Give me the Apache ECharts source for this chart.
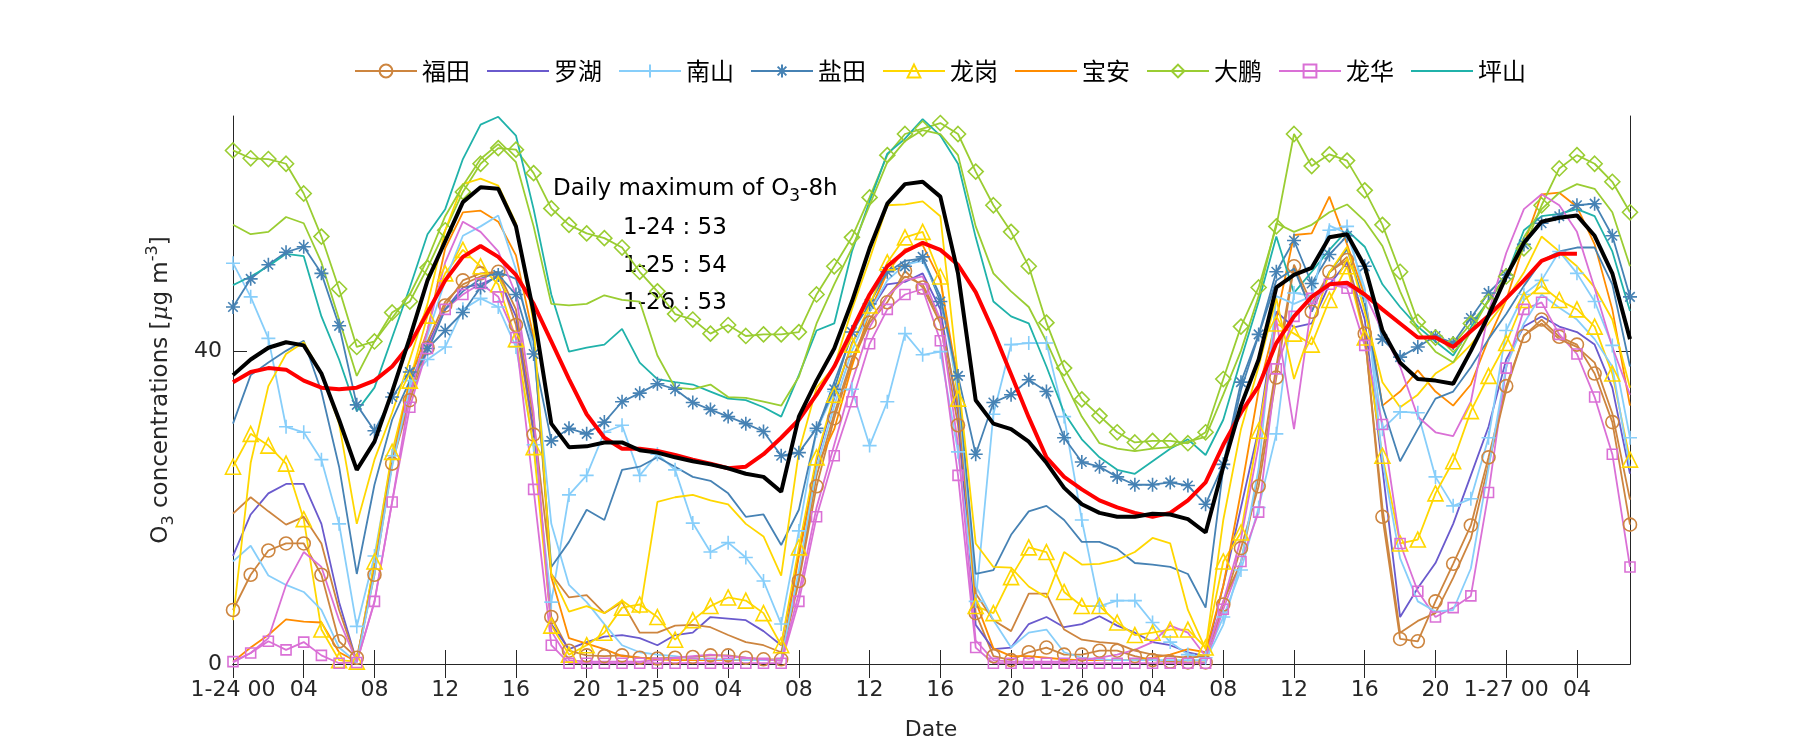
<!DOCTYPE html>
<html><head><meta charset="utf-8">
<script src="https://cdn.jsdelivr.net/npm/echarts@6/dist/echarts.min.js"></script>
<style>html,body{margin:0;padding:0;background:#fff}#c{width:1800px;height:750px}</style>
</head><body><div id="c"></div>
<script>
// Hourly time labels, 1-24 00:00 .. 1-27 07:00
const timeLabels = [
 "1-24 00","01","02","03","04","05","06","07","08","09","10","11","12","13","14","15","16","17","18","19","20","21","22","23",
 "1-25 00","01","02","03","04","05","06","07","08","09","10","11","12","13","14","15","16","17","18","19","20","21","22","23",
 "1-26 00","01","02","03","04","05","06","07","08","09","10","11","12","13","14","15","16","17","18","19","20","21","22","23",
 "1-27 00","01","02","03","04","05","06","07"
];
const yTickValues = [0, 40];
const legendNames = ["福田","罗湖","南山","盐田","龙岗","宝安","大鹏","龙华","坪山"];

const futian = [6.9,11.4,14.5,15.4,15.4,11.4,2.9,0.8,11.4,25.6,33.7,40.4,
45.8,49,49.9,50.1,43.3,29.3,6,1.7,1.1,1,1.1,0.8,
0.7,0.8,0.9,1.1,1.1,0.8,0.6,0.6,10.6,22.7,31.4,38.5,
43.6,46.2,50.2,48.1,43.5,30.5,6.5,1,0.5,1.5,2.1,1.2,
1.2,1.7,1.7,1,0.5,0.3,0.2,0.2,7.6,14.8,22.7,36.6,
50.8,45,50.1,51.6,42.2,18.8,3.2,2.9,8,12.8,17.7,26.4,
35.5,41.9,44,41.8,40.8,37.1,30.9,17.8];
const futian2 = [19.2,21.3,19.5,17.8,18.8,15.4,6.9,0.3,12,25.7,34.4,41.2,
46.3,48.5,49.5,50.1,45.3,31.2,11.5,8.5,8.8,6.5,7.9,4,
4,4.9,5,4.7,3.7,2.8,2.4,1.5,11,24,32,39,
44,47,49.5,48.5,44,33,9,5.6,4.2,9,9,4.4,
3.1,2.8,2.6,1.7,1.2,1,0.8,1,8,13,24,38,
51,46,50,52,42,20,4,5.5,6.5,11,16,25.5,
35,42,43.5,41.5,40.5,38.5,32,21];
const luohu = [13.8,19.1,21.8,23,23,17.9,7.9,0.3,12.9,26.1,34.8,40.8,
45.3,48.1,48.5,49.5,44.4,29.8,5.1,1.9,2.8,3.5,3.7,3.3,
2.4,3.7,4,6,5.8,5.6,4.2,2.4,14,26,34,41,
45,48.5,48.8,49.9,45.3,32,5,1.9,2.1,5.1,6,4.7,
5.1,6.1,4.9,4,2.8,2.4,1.5,1,10,20,30,45,
43,43.5,48.5,51.3,44,25,6,9.7,12.9,17.9,24.1,30.3,
38.9,43.1,44.4,43.1,42.4,40.8,35.3,24.3];
const nanshan = [51.2,46.9,41.6,30.3,29.6,26.1,17.9,4.8,13.8,26.6,36.2,38.9,
40.5,45.3,46.7,45.6,40.5,28,7.9,21.6,24.1,29.6,30.5,24.1,
26.8,24.8,18,14.3,15.5,13.6,10.6,5.1,17,29.8,34.8,35.1,
27.9,33.5,42.2,39.5,39.9,27.1,8,31.9,40.8,41,41,31.6,
18.4,7.4,8.1,8.1,5.3,2.8,1.2,0.8,6,12,20,29.4,
47.4,47,55.4,55.9,47,30,32.2,32.1,23.9,20.2,21.1,28.9,
42.6,47.2,49,52.7,49.9,46.3,40.7,28.9];
const nanshan2 = [13.1,15.1,11.3,10.1,9.2,6.9,2.1,0.2,11.5,25.2,35.3,42,
49,54.7,55.9,57.3,50.4,39.9,17.9,10.1,7.9,5.1,2.4,1.5,
1.2,1,0.7,0.6,0.6,0.5,0.5,0.5,12,25,33,40,
45,49,51,51.5,47,35,10,5.6,2.1,4,4.4,1.5,
0.8,0.6,0.5,0.5,0.5,0.5,0.5,0.5,5,13,25,47,
46,47,56,55,48,26,13.5,8,6.7,6.9,12.2,25,
38,43.5,47.2,45.5,44,41.5,38,25];
const yantian = [45.6,49.2,51,52.6,53.3,49.9,43.2,33.1,29.8,34.1,37.3,40.3,
42.6,44.9,48.1,49.7,47.2,39.6,28.5,30.1,29.4,30.9,33.5,34.6,
35.8,35.1,33.4,32.5,31.6,30.7,29.7,26.6,27,30.1,35.1,42.4,
46,50.1,50.8,52,46.3,36.8,26.8,33.4,34.4,36.3,34.8,28.9,
25.8,25.2,23.9,22.9,22.9,23.2,22.8,20.4,25.5,36,42.1,50.1,
54.1,48.6,52.3,54.7,50.8,41.5,39.2,40.5,41.9,41,44.2,47.4,
49.7,53.6,56.3,57.2,58.6,58.8,54.7,46.9];
const yantian2 = [30.7,36.9,38.5,40,41.3,34.8,25.2,11.5,22.9,31.2,36.2,39.9,
45.3,47.6,49.2,50.1,49.2,41.2,12.4,15.6,19.7,18.4,24.8,25.2,
26.4,25.2,23.9,23.4,21.8,18.8,19.1,15.2,19.7,29.8,36,42,
47,50,51.5,51.8,47,36,11.5,12,16.5,19.5,20.2,18.4,
15.6,15.6,14.7,12.9,12.7,12.4,11.5,7.2,25,35,42,49,
50.5,45,50,53,46,33,25.9,30,33.9,34.8,37.9,41.5,
44.7,48.3,51.5,52.7,53.2,53.2,48.5,38];
const longgang = [25.2,29.4,27.9,25.6,18.5,4.4,0.5,0.3,13.1,27.1,36.2,44.5,
49.9,52.9,50.8,48.5,41.5,27.7,4.9,1.2,2.4,4,7.2,7.6,
6,3.1,5.6,7.4,8.5,8.1,6.5,2.4,14.9,26.4,34.4,40.8,
45.8,51.3,54.5,55.2,49.5,33.9,7.4,6.5,11.1,14.9,14.3,9.2,
7.4,7.4,5.3,3.7,4,4.4,4.4,2.1,13.1,16.8,29.8,43.5,
42.2,40.8,46.5,50.8,41.7,26.6,15.4,15.9,21.8,25.9,32.3,36.8,
41,46.5,48.3,46.5,45.3,43.1,37.1,26.1];
const longgang2 = [5.6,25.7,35.5,39.6,41.1,37.1,30.7,17.9,26.1,32.1,38.9,46,
55.4,61.3,62,61.1,56.3,43.5,11.5,6.7,7.4,6.5,8.1,6.5,
20.7,21.3,21.6,20.9,20.4,17.9,16.3,11.3,27.1,35.3,38,45.3,
51.7,58.6,58.7,59.1,57.2,36.7,15.4,12.4,12.3,9.9,8.5,14.3,
12.7,12.8,13.3,14.3,16.1,15.4,6.9,1.9,18.4,30,38,46.7,
36.4,43,50,53.3,45,36,32.8,34.4,37.1,38.5,40.8,43.5,
46.5,50,54.6,52.7,50.8,48.1,44,35.3];
const baoan = [0.3,2.1,3.7,5.7,5.4,5.3,1.5,0.3,12,25.7,36.2,42.6,
53.1,57.7,57.9,56.5,52.2,41.7,11.1,3.3,2.6,1.9,1,0.8,
0.6,0.5,0.5,0.5,0.5,0.5,0.5,0.5,13.8,25.2,30,38,
45,50,53,53.5,49,36,8,2,1,1,0.8,0.6,
0.5,0.5,0.5,0.5,0.8,1.2,1.9,1.5,10,22,35,44,
54.8,55,59.7,53.6,47,33,34.8,37.5,34.8,33,35.7,41.5,
46.5,53.6,60,60.2,58.4,53.6,45.3,33];
const dapeng = [65.6,64.6,64.5,63.9,60.1,54.6,47.9,40.5,41.2,44.9,46.3,50.6,
55.4,60.3,63.9,65.9,65.7,62.7,58.2,56.1,55,54.4,53.2,50.1,
47.6,44.7,44,42.2,43.3,41.9,42.1,42.1,42.4,47.2,50.8,54.5,
59.6,65,67.7,68.4,69.1,67.7,62.9,58.6,55.2,50.8,43.6,37.8,
33.8,31.7,29.6,28.3,28.5,28.5,28.2,29.6,36.4,43.1,48.1,55.9,
67.7,63.6,65.1,64.3,60.5,56.1,50.1,43.7,41.7,40.8,43.5,46.3,
49.5,53.1,58.6,63.3,65,63.9,61.6,57.7];
const dapeng2 = [56.1,54.9,55.2,57.1,56.3,51.3,44,36.8,41.2,44.2,47.2,51.7,
57.2,61.1,64.5,66.4,64.1,55.9,46,45.8,46,47.1,46.5,46.3,
39.4,35.3,35.1,35.7,34.1,34,33.5,33,36.7,43.5,48.5,53.1,
58.6,64.1,66.8,68.2,67.7,65,55.9,49.9,47.6,45.6,41.2,36.2,
31.6,28.2,27.5,27.2,27.5,27.7,28.4,29,34.4,40,47,56.3,
55.2,56.1,57.7,58.7,56.6,53.4,47.6,42.6,39.9,38.5,42.5,46.5,
49.5,54.5,58.1,60.2,61.3,60.7,57.7,50.8];
const longhua = [0.3,1.4,2.9,1.8,2.8,1.1,0.1,0.2,8,20.7,32.8,40.3,
45.3,47.2,48.6,46.9,41.7,22.3,2.4,0.1,0.1,0.1,0.1,0.1,
0.1,0.1,0.1,0.1,0.1,0.1,0.1,0.1,8,18.8,26.6,33.5,
40.9,45.3,47.2,47.9,41.3,24.1,2.1,0.1,0.1,0.1,0.1,0.1,
0.1,0.1,0.1,0.1,0.1,0.1,0.1,0.1,7,13.1,19.4,37.7,
44.4,46.7,48.5,48,40.7,30.6,15.4,9.3,6,7.2,8.7,21.9,
37.8,45.3,46.2,42.1,39.6,34.1,26.8,12.4];
const longhua2 = [0.2,1.4,3.3,10.1,14.3,12.4,5.6,0.3,7.9,20.7,34.4,42.6,
51.3,56.5,55.2,52.7,47.2,32.1,4.2,0.5,0.3,0.3,0.3,0.3,
0.5,0.8,1,1.2,1,0.8,0.6,0.4,9,20,28,36,
43,47,49,49.5,44,28,3,0.5,0.3,0.3,0.3,0.3,
0.5,0.8,1.2,1.8,2.8,4.9,4,1,8,16,28,44,
30,46,48.5,48.3,47.3,42.5,38,31.6,29.6,29.1,33.5,45,
52.5,58.1,60,58.6,55.2,48,40.5,34.4];
const pingshan = [48.4,49.5,50.8,52.4,52.1,44.4,38.9,32.3,35.3,41.7,48.1,54.9,
58.1,64.5,68.9,69.9,67.5,58.1,47.2,39.9,40.4,40.8,42.8,38.5,
36.4,36,35.7,34.8,33.9,33.7,32.8,31.6,36.9,42.6,43.5,52.7,
59.1,65.2,67.1,69.6,67.5,63.9,54.5,46.3,44.4,43.5,38,32.1,
28.7,26.4,24.8,24.3,25.9,27.5,28.7,26.7,31.2,38.9,46.3,54.6,
47.4,50.1,52.9,55.4,53.3,48.5,45.6,43.1,41.2,39.4,43,46.5,
49.5,55.4,57.2,57.5,58.1,57.2,52.7,45.1];
const cityHourly = [36.9,38.9,40.4,41.1,40.7,37.1,31.2,24.8,28.4,34.8,41.7,49,
54,59,60.9,60.7,55.9,44.9,30.7,27.7,27.8,28.3,28.3,27.3,
27,26.4,25.9,25.5,25,24.3,23.9,22,31.6,36.2,40.3,46.3,
53.1,58.8,61.3,61.6,59.7,49.9,33.7,30.7,30,28.4,25.7,22.5,
20.4,19.3,18.8,18.8,19.2,19.1,18.5,16.8,25.2,33,38.9,48.1,
49.7,50.6,54.5,54.9,50.8,42.6,38.5,36.4,36.2,35.8,40,44.5,
49.5,53.8,56.5,57,57.3,54.7,49.9,41.5];
const city8h = [36,37.3,37.8,37.6,36.2,35.3,35.1,35.3,36.2,38,40.8,44.9,
49,52,53.4,52,49.7,46,41.2,36.4,31.9,28.9,27.5,27.5,
27.2,26.7,26.1,25.6,25,25.2,26.8,28.9,31.2,34.4,38,42.6,
47.2,50.8,52.7,53.8,52.9,51,47.5,42.5,37,31.5,26.4,23.9,
22.3,20.9,20,19.3,18.8,19.3,20.9,23.2,28,32.1,35.5,41,
44.4,46.9,48.5,48.7,47.2,45.3,43.5,41.7,41.7,40.5,42.5,44.5,
46.7,49,51.5,52.4,52.4];
const dailyMaxLabels = ["1-24 : 53","1-25 : 54","1-26 : 53"];

const COL = {futian:'#CD853F', luohu:'#6A5ACD', nanshan:'#87CEFA', yantian:'#4682B4',
  longgang:'#FFD700', baoan:'#FF8C00', dapeng:'#9ACD32', longhua:'#DA70D6', pingshan:'#20B2AA'};
const SYM = {
  plus: 'path://M0,5L10,5M5,0L5,10',
  star: 'path://M0,5L10,5M5,0L5,10M1.6,1.6L8.4,8.4M1.6,8.4L8.4,1.6'
};

function mk(name, data, color, symbol, size, lw, z) {
  const has = !!symbol;
  return {
    type: 'line', name, data,
    symbol: has ? symbol : 'none', showSymbol: has, showAllSymbol: true, symbolSize: size || 12,
    lineStyle: {color, width: lw || 1.8},
    itemStyle: has ? {color: 'rgba(0,0,0,0)', borderColor: color, borderWidth: 1.6}
                   : {color: 'rgba(0,0,0,0)', borderColor: 'rgba(0,0,0,0)', borderWidth: 0},
    emphasis: {disabled: true}, silent: true, z: z || 2
  };
}

const series = [
  mk('福田', futian, COL.futian, 'circle', 13),
  mk('罗湖', luohu, COL.luohu),
  mk('南山', nanshan, COL.nanshan, SYM.plus, 14),
  mk('盐田', yantian, COL.yantian, SYM.star, 14),
  mk('龙岗', longgang, COL.longgang, 'triangle', 15),
  mk('宝安', baoan, COL.baoan),
  mk('大鹏', dapeng, COL.dapeng, 'diamond', 15),
  mk('龙华', longhua, COL.longhua, 'rect', 10),
  mk('坪山', pingshan, COL.pingshan),
  mk('福田-2', futian2, COL.futian),
  mk('南山-2', nanshan2, COL.nanshan),
  mk('盐田-2', yantian2, COL.yantian),
  mk('龙岗-2', longgang2, COL.longgang),
  mk('大鹏-2', dapeng2, COL.dapeng),
  mk('龙华-2', longhua2, COL.longhua),
  mk('8h', city8h, '#FF0000', null, 0, 4, 5),
  mk('hourly', cityHourly, '#000000', null, 0, 4, 6)
];

const AX = '#262626';
const tickFont = {fontFamily: 'DejaVu Sans', fontSize: 22, color: AX};
const chart = echarts.init(document.getElementById('c'), null, {renderer: 'canvas'});
chart.setOption({
  animation: false,
  backgroundColor: '#fff',
  grid: {left: 233, right: 170, top: 116, bottom: 86, containLabel: false},
  legend: {
    data: legendNames, top: 59, left: 354, padding: 0, itemGap: 16,
    itemWidth: 62, itemHeight: 16,
    textStyle: {fontFamily: 'Noto Sans CJK SC', fontSize: 24, color: '#000'},
    selectedMode: false
  },
  xAxis: [
    {type: 'category', data: timeLabels, boundaryGap: false, position: 'bottom',
     axisLine: {lineStyle: {color: AX, width: 1}},
     axisTick: {inside: true, length: 14, interval: 3, lineStyle: {color: AX}},
     axisLabel: Object.assign({interval: 3, margin: 15}, tickFont),
     splitLine: {show: false}},
    {type: 'category', data: timeLabels, boundaryGap: false, position: 'top',
     axisLine: {lineStyle: {color: AX, width: 1}},
     axisTick: {inside: true, length: 14, interval: 3, lineStyle: {color: AX}},
     axisLabel: {show: false}, splitLine: {show: false}}
  ],
  yAxis: [
    {type: 'value', min: 0, max: 70, interval: 40, position: 'left',
     axisLine: {show: true, lineStyle: {color: AX, width: 1}},
     axisTick: {show: true, inside: true, length: 14, customValues: yTickValues, lineStyle: {color: AX}},
     axisLabel: Object.assign({margin: 11, customValues: yTickValues}, tickFont),
     splitLine: {show: false}},
    {type: 'value', min: 0, max: 70, interval: 40, position: 'right',
     axisLine: {show: true, lineStyle: {color: AX, width: 1}},
     axisTick: {show: true, inside: true, length: 14, customValues: yTickValues, lineStyle: {color: AX}},
     axisLabel: {show: false}, splitLine: {show: false}}
  ],
  series: series,
  graphic: [
    {type: 'text', x: 931, y: 730, silent: true,
     style: {text: 'Date', font: '22px "DejaVu Sans"', fill: AX, align: 'center', verticalAlign: 'middle'}},
    {type: 'text', x: 161, y: 390, rotation: Math.PI / 2, silent: true,
     style: {text: 'O{sub|3} concentrations [{mu|μ}g m{sup|-3}]', font: '23px "DejaVu Sans"', fill: AX,
       align: 'center', verticalAlign: 'middle', lineHeight: 32,
       rich: {sub: {fontSize: 16, fontFamily: 'DejaVu Sans', lineHeight: 16, verticalAlign: 'bottom', fill: AX},
              sup: {fontSize: 16, fontFamily: 'DejaVu Sans', lineHeight: 16, verticalAlign: 'top', fill: AX},
              mu: {fontSize: 23, fontFamily: 'DejaVu Serif', fontStyle: 'italic', lineHeight: 32, fill: AX}}}},
    {type: 'text', x: 553, y: 189, silent: true,
     style: {text: 'Daily maximum of O{sub|3}-8h', font: '23px "DejaVu Sans"', fill: '#000',
       align: 'left', verticalAlign: 'middle', lineHeight: 32,
       rich: {sub: {fontSize: 17, fontFamily: 'DejaVu Sans', lineHeight: 17, verticalAlign: 'bottom', fill: '#000'}}}},
    {type: 'text', x: 623, y: 228, silent: true,
     style: {text: dailyMaxLabels[0], font: '23px "DejaVu Sans"', fill: '#000', align: 'left', verticalAlign: 'middle'}},
    {type: 'text', x: 623, y: 266, silent: true,
     style: {text: dailyMaxLabels[1], font: '23px "DejaVu Sans"', fill: '#000', align: 'left', verticalAlign: 'middle'}},
    {type: 'text', x: 623, y: 303, silent: true,
     style: {text: dailyMaxLabels[2], font: '23px "DejaVu Sans"', fill: '#000', align: 'left', verticalAlign: 'middle'}}
  ]
});
</script></body></html>
